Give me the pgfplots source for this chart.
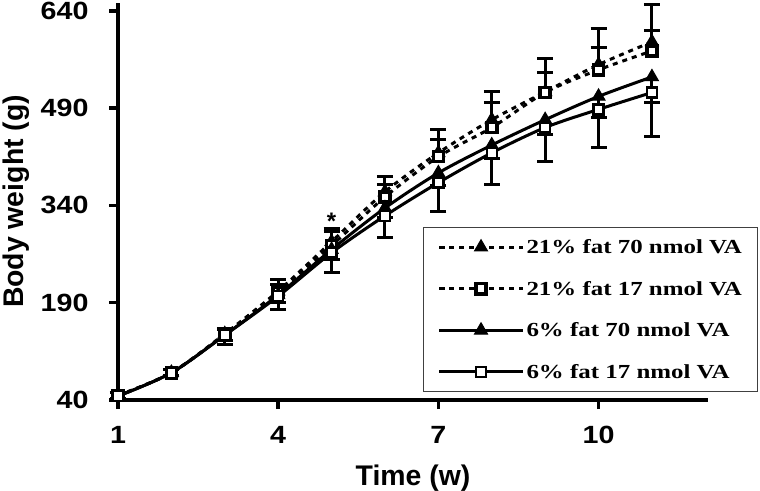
\documentclass[border=0pt]{standalone}
\usepackage{fontspec}
\setmainfont{Liberation Sans}
\newfontfamily\legfont[FakeStretch=1.25]{Liberation Serif}
\newfontfamily\tickfont[FakeStretch=1.15]{Liberation Sans}
\usepackage{pgfplots}
\usepackage{pgfplotstable}
\pgfplotsset{compat=1.18}

\pgfplotstableread{
x y e
1 47 4
2 82 5
3 142 8
4 208 17
5 284 21
6 361 23
7 421 36
8 472 43
9 515 51
10 557 55
11 592 58
}\tabA
\pgfplotstableread{
x y e
1 47 4
2 82 5
3 141 8
4 206 12
5 278 21
6 353 19
7 415 26
8 460 38
9 514 31
10 549 34
11 578 32
}\tabB
\pgfplotstableread{
x y e
1 46 4
2 82 5
3 140 8
4 202 12
5 272 15
6 336 15
7 390 20
8 433 20
9 472 23
10 508 32
11 538 40
}\tabC
\pgfplotstableread{
x y e
1 46 4
2 82 5
3 140 15
4 200 20
5 267 31
6 324 34
7 375 45
8 421 49
9 460 53
10 488 59
11 514 68
}\tabD

\begin{document}
\begin{tikzpicture}
\useasboundingbox (-118bp,-91bp) rectangle (642bp,400bp);
\begin{axis}[
  at={(0,0)}, anchor=south west,
  scale only axis, width=590bp, height=397bp,
  xmin=1, xmax=12.05, ymin=40, ymax=652,
  axis lines=left,
  axis line style={-, line width=3.5bp},
  clip=false,
  xtick={1,4,7,10}, ytick={40,190,340,490,640},
  tick align=outside,
  major tick length=9bp,
  tick style={line width=3.5bp, black},
  xticklabel style={font=\tickfont\bfseries\fontsize{25}{25}\selectfont, yshift=-14bp},
  yticklabel style={font=\tickfont\bfseries\fontsize{25}{25}\selectfont, xshift=-17bp},
  xlabel={Time (w)}, ylabel={Body weight (g)},
  xlabel style={font=\bfseries\fontsize{28.5}{28.5}\selectfont, yshift=-14bp},
  ylabel style={font=\bfseries\fontsize{28.5}{28.5}\selectfont, yshift=4bp},
  legend style={at={(0.517,0.02)}, anchor=south west, draw=black!75, line width=1bp,
     font=\legfont\bfseries\fontsize{20}{22}\selectfont, row sep=22bp,
     inner xsep=14bp, inner ysep=10bp,
     nodes={inner sep=2bp}},
  legend cell align=left,
  legend image code/.code={\draw[mark repeat=2,mark phase=2,#1] plot coordinates {(0bp,0bp) (42bp,0bp) (84bp,0bp)};},
  /pgf/number format/assume math mode=true,
]
\addplot[black, line width=3bp, dash pattern=on 5bp off 5bp, smooth, tension=0.5,
  mark=triangle*, mark size=7.5bp, mark options={solid, fill=black, line width=1bp},
  error bars/.cd, y dir=plus, y explicit,
  error bar style={line width=3bp, solid},
  error mark options={rotate=90, mark size=8bp, line width=3bp, solid}]
  table[x=x, y=y, y error=e] {\tabA};
\addlegendentry{21\% fat 70 nmol VA}
\addplot[black, line width=3bp, dash pattern=on 5bp off 5bp, smooth, tension=0.5,
  mark=square*, mark size=5bp, mark options={solid, fill=white, line width=3.5bp},
  error bars/.cd, y dir=plus, y explicit,
  error bar style={line width=3bp, solid},
  error mark options={rotate=90, mark size=8bp, line width=3bp, solid}]
  table[x=x, y=y, y error=e] {\tabB};
\addlegendentry{21\% fat 17 nmol VA}
\addplot[black, line width=3bp, smooth, tension=0.5,
  mark=triangle*, mark size=7.5bp, mark options={solid, fill=black, line width=1bp},
  error bars/.cd, y dir=minus, y explicit,
  error bar style={line width=3bp, solid},
  error mark options={rotate=90, mark size=8bp, line width=3bp, solid}]
  table[x=x, y=y, y error=e] {\tabC};
\addlegendentry{6\% fat 70 nmol VA}
\addplot[black, line width=3bp, smooth, tension=0.5,
  mark=square*, mark size=5bp, mark options={solid, fill=white, line width=2.5bp},
  error bars/.cd, y dir=minus, y explicit,
  error bar style={line width=3bp, solid},
  error mark options={rotate=90, mark size=8bp, line width=3bp, solid}]
  table[x=x, y=y, y error=e] {\tabD};
\addlegendentry{6\% fat 17 nmol VA}
\node[font=\bfseries\fontsize{24}{24}\selectfont] at (axis cs:5,316) {*};
\end{axis}
\end{tikzpicture}
\end{document}
